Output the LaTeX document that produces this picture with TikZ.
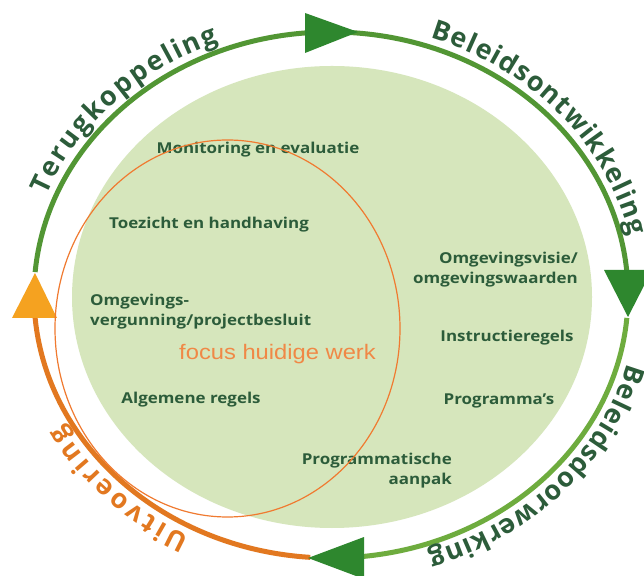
\documentclass[tikz,border=0pt]{standalone}
\usepackage{fontspec}
\setmainfont{Open Sans}
\newfontfamily\arialfont{Liberation Sans}
\usetikzlibrary{decorations.text}
\definecolor{ringgreen}{RGB}{82,150,52}
\definecolor{ringgreenlight}{RGB}{110,172,62}
\definecolor{arrowgreen}{RGB}{46,135,46}
\definecolor{ringorange}{RGB}{226,120,32}
\definecolor{arroworange}{RGB}{245,162,32}
\definecolor{discgreen}{RGB}{214,230,188}
\definecolor{textgreen}{RGB}{44,92,58}
\definecolor{focusorange}{RGB}{240,136,70}
\definecolor{circleorange}{RGB}{240,122,48}
\newcommand{\sx}[1]{\scalebox{1.13}[1]{#1}}
\newcommand{\curvefont}{\bfseries\fontsize{27}{27}\selectfont}
\begin{document}
\begin{tikzpicture}[x=1pt,y=1pt,
  ring/.style={line width=5pt},
  lbl/.style={text=textgreen, font=\bfseries\fontsize{15}{20}\selectfont, inner sep=0pt},
  curved/.style={decorate, decoration={text along path, text={|\curvefont|#1}, text align=fit to path}},
]
\fill[white] (0,0) rectangle (644,575);
\useasboundingbox (0,0) rectangle (644,575);
\clip (0,0) rectangle (644,575);
% disc
\fill[discgreen] (332,278) ellipse [x radius=260, y radius=231];
% ring arcs
\begin{scope}[shift={(331,280)}]
  \draw[ring, ringgreen] (175:297 and 263) arc[start angle=175, end angle=5, x radius=297, y radius=263];
  \draw[ring, ringgreenlight] (-5:297 and 263) arc[start angle=-5, end angle=-84, x radius=297, y radius=263];
  \draw[ring, ringorange] (-94:297 and 263) arc[start angle=-94, end angle=-175, x radius=297, y radius=263];
  % curved labels
  \path[curved=Terugkoppeling, decoration={text color=textgreen}] (158.5:306 and 272) arc[start angle=158.5, end angle=111.5, x radius=306, y radius=272];
  \path[curved=Beleidsontwikkeling, decoration={text color=textgreen}] (71:306 and 272) arc[start angle=71, end angle=12.5, x radius=306, y radius=272];
  \path[curved=Beleidsdoorwerking, decoration={text color=textgreen}] (-14.5:306 and 272) arc[start angle=-14.5, end angle=-71.5, x radius=306, y radius=272];
  \path[curved=Uitvoering, decoration={text color=ringorange}] (242.5:306 and 272) arc[start angle=242.5, end angle=208.5, x radius=306, y radius=272];
\end{scope}
% arrowheads
\fill[arrowgreen] (305,562) -- (358,543) -- (305,522) -- cycle;
\fill[arrowgreen] (604,305) -- (628,258) -- (652,305) -- cycle;
\fill[arrowgreen] (364,38) -- (308,17) -- (364,-4) -- cycle;
\fill[arroworange] (12,257) -- (35,302) -- (57,257) -- cycle;
% labels
\node[lbl] (mon) at (258,425) {\sx{Monitoring en evaluatie}};
\node[lbl] (toe) at (209,350) {\sx{Toezicht en handhaving}};
\node[lbl, anchor=west] (ovg) at (90,263.5) {\sx{\begin{tabular}{@{}l@{}}Omgevings-\\vergunning/projectbesluit\end{tabular}}};
\node[lbl] (alg) at (191,175) {\sx{Algemene regels}};
\node[lbl, anchor=east] (pra) at (452,105) {\sx{\begin{tabular}{@{}r@{}}Programmatische\\aanpak\end{tabular}}};
\node[lbl, anchor=east] (ovi) at (578,305) {\sx{\begin{tabular}{@{}r@{}}Omgevingsvisie/\\omgevingswaarden\end{tabular}}};
\node[lbl] (ins) at (507,237) {\sx{Instructieregels}};
\node[lbl] (prg) at (499,174) {\sx{Programma’s}};
\node[text=focusorange, font=\arialfont\fontsize{21}{24}\selectfont, inner sep=0pt] (foc) at (277.5,221) {\sx{focus huidige werk}};
% focus circle
\draw[circleorange, line width=1.2pt] (227.5,246.5) ellipse [x radius=172.5, y radius=188.5];
\end{tikzpicture}
\end{document}
